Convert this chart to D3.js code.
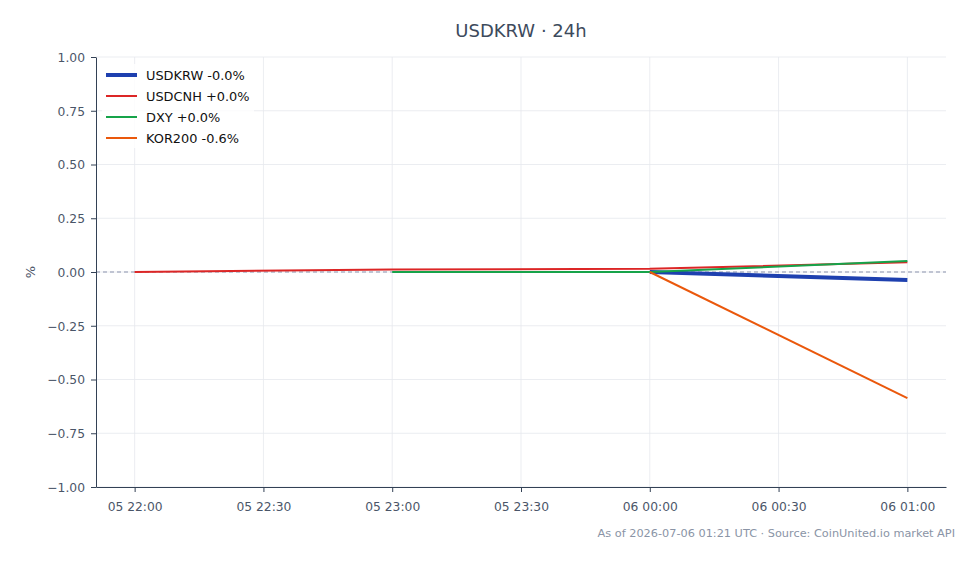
<!DOCTYPE html>
<html>
<head>
<meta charset="utf-8">
<script src="https://cdn.jsdelivr.net/npm/d3@7"></script>
<style>
  body { margin: 0; background: #fff; }
  svg { font-family: "DejaVu Sans", sans-serif; }
</style>
</head>
<body>
<svg></svg>
<script>
var times = ["2026-07-05T22:00Z", "2026-07-05T23:00Z", "2026-07-06T00:00Z", "2026-07-06T01:00Z"];
var seriesNames = ["USDKRW", "USDCNH", "DXY", "KOR200"];
var legendLabels = ["USDKRW -0.0%", "USDCNH +0.0%", "DXY +0.0%", "KOR200 -0.6%"];
// null = no data at that hour
var usdkrw = [null, null, 0.0, -0.037];
var usdcnh = [0.0, 0.012, 0.015, 0.045];
var dxy = [null, 0.0, 0.0, 0.051];
var kor200 = [null, null, 0.0, -0.587];
var yTicks = [-1, -0.75, -0.5, -0.25, 0, 0.25, 0.5, 0.75, 1];
var xTickLabels = ["05 22:00", "05 22:30", "05 23:00", "05 23:30", "06 00:00", "06 00:30", "06 01:00"];

function init() {
    var w = 978, h = 564;
    var margin = {top: 57, right: 32, bottom: 77, left: 96};

    var svg = d3.select("svg").attr("width", w).attr("height", h);

    var colors = ["#1e40af", "#dc2626", "#16a34a", "#ea580c"];
    var widths = [4, 2, 2, 2];
    var values = [usdkrw, usdcnh, dxy, kor200];

    var dates = times.map(function(t) { return new Date(t); });
    var t0 = dates[0], t1 = dates[dates.length - 1];
    var pad = (t1 - t0) * 0.05;

    var x = d3.scaleUtc()
              .domain([new Date(+t0 - pad), new Date(+t1 + pad)])
              .range([margin.left, w - margin.right]);
    var y = d3.scaleLinear()
              .domain([-1, 1])
              .range([h - margin.bottom, margin.top]);

    var xTickDates = xTickLabels.map(function(d, i) { return new Date(+t0 + i * 30 * 60000); });

    // grid
    svg.append("g").selectAll("line").data(xTickDates).enter().append("line")
        .attr("x1", function(d) { return x(d); }).attr("x2", function(d) { return x(d); })
        .attr("y1", margin.top).attr("y2", h - margin.bottom)
        .attr("stroke", "#e6e9ee").attr("stroke-width", 0.8);
    svg.append("g").selectAll("line").data(yTicks).enter().append("line")
        .attr("x1", margin.left).attr("x2", w - margin.right)
        .attr("y1", function(d) { return y(d); }).attr("y2", function(d) { return y(d); })
        .attr("stroke", "#e6e9ee").attr("stroke-width", 0.8);

    // zero line
    svg.append("line")
        .attr("x1", margin.left).attr("x2", w - margin.right)
        .attr("y1", y(0)).attr("y2", y(0))
        .attr("stroke", "#8b93ad").attr("stroke-width", 1)
        .attr("stroke-dasharray", "4,3");

    // lines
    var line = d3.line()
                 .defined(function(d) { return d.v !== null; })
                 .x(function(d) { return x(d.t); })
                 .y(function(d) { return y(d.v); });

    values.forEach(function(vals, i) {
        var pts = vals.map(function(v, j) { return {t: dates[j], v: v}; });
        svg.append("path")
            .attr("d", line(pts))
            .attr("fill", "none")
            .attr("stroke", colors[i])
            .attr("stroke-width", widths[i])
            .attr("stroke-linecap", "butt");
    });

    // axes
    var xAxis = d3.axisBottom(x)
                  .tickValues(xTickDates)
                  .tickFormat(function(d, i) { return xTickLabels[i]; })
                  .tickSize(5).tickSizeOuter(0).tickPadding(6);
    var gx = svg.append("g")
        .attr("transform", "translate(0," + (h - margin.bottom) + ")")
        .call(xAxis);

    var yAxis = d3.axisLeft(y)
                  .tickValues(yTicks)
                  .tickFormat(function(d) { return d3.format(".2f")(d).replace("-", "\u2212"); })
                  .tickSize(5).tickSizeOuter(0).tickPadding(6);
    var gy = svg.append("g")
        .attr("transform", "translate(" + margin.left + ",0)")
        .call(yAxis);

    [gx, gy].forEach(function(g) {
        g.attr("font-family", null).attr("font-size", null);
        g.selectAll("text").attr("fill", "#4a5568").style("font-size", "12.3px");
        g.selectAll("line").attr("stroke", "#334155");
        g.select(".domain").attr("stroke", "#334155");
    });
    gx.selectAll("text").attr("dy", "1.05em");
    gy.selectAll("text").attr("dy", "0.36em");

    svg.append("text")
        .attr("transform", "translate(35," + y(0) + ") rotate(-90)")
        .attr("text-anchor", "middle")
        .attr("fill", "#4a5568")
        .style("font-size", "13px")
        .text("%");

    // title
    svg.append("text")
        .attr("x", 521).attr("y", 37)
        .attr("text-anchor", "middle")
        .attr("fill", "#3d4a5c")
        .style("font-size", "18px")
        .text("USDKRW \u00b7 24h");

    // footer
    svg.append("text")
        .attr("x", 955).attr("y", 537)
        .attr("text-anchor", "end")
        .attr("fill", "#8a94a6")
        .style("font-size", "11.3px")
        .text("As of 2026-07-06 01:21 UTC \u00b7 Source: CoinUnited.io market API");

    // legend
    var legend = svg.append("g").attr("transform", "translate(106,75)");
    legend.append("rect")
        .attr("x", -4).attr("y", -11).attr("width", 152).attr("height", 84)
        .attr("fill", "#fff").attr("opacity", 0.8);
    var items = legend.selectAll("g.item").data(legendLabels).enter().append("g")
        .attr("class", "item")
        .attr("transform", function(d, i) { return "translate(0," + i * 21 + ")"; });
    items.append("line")
        .attr("x1", 0).attr("x2", 31).attr("y1", 0).attr("y2", 0)
        .attr("stroke", function(d, i) { return colors[i]; })
        .attr("stroke-width", function(d, i) { return widths[i]; });
    items.append("text")
        .attr("x", 40).attr("y", 4.7)
        .attr("fill", "#111")
        .style("font-size", "12.9px")
        .text(function(d) { return d; });
}
window.onload = init;
</script>
</body>
</html>
